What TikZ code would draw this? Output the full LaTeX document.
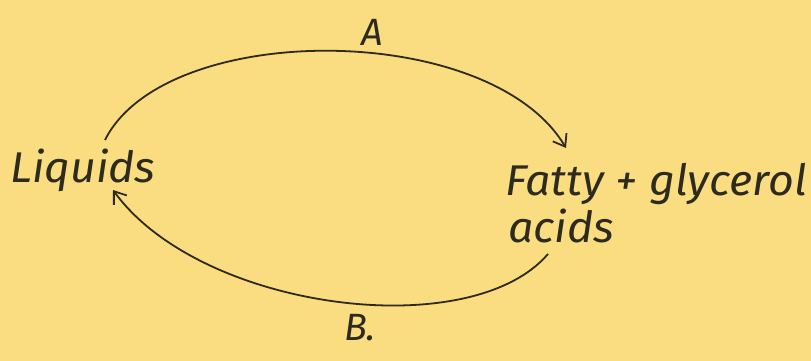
\documentclass[tikz,border=0pt]{standalone}
\usepackage{fontspec}
\setmainfont{Fira Sans}
\usetikzlibrary{arrows.meta,calc}
\definecolor{paper}{RGB}{250,221,128}
\definecolor{ink}{RGB}{45,42,30}
\begin{document}
\begin{tikzpicture}[x=1pt,y=-1pt,
  lbl/.style={text=ink,font=\itshape\fontsize{43}{48}\selectfont,inner sep=0pt,xscale=1.04},
  small/.style={text=ink,font=\itshape\fontsize{38}{42}\selectfont,inner sep=0pt},
  conn/.style={draw=ink,line width=1.8pt,-{Straight Barb[length=11pt,width=16pt,line width=1.8pt]}}]
\fill[paper] (0,0) rectangle (811,361);
\useasboundingbox (0,0) rectangle (811,361);
\node[lbl,anchor=base west] (liq) at (10,182) {Liquids};
\node[lbl,anchor=base west] (fat) at (505,195) {Fatty + glycerol};
\node[lbl,anchor=base west] (acid) at (508,242) {acids};
\node[small] (A) at (372,32) {A};
\node[small] (B) at (360,328) {B.};
\coordinate (s1) at (105,140);
\coordinate (e1) at (566,148);
\coordinate (s2) at (548,254);
\coordinate (e2) at (113,190);
\draw[conn] (s1) .. controls (165,20) and (490,20) .. (e1);
\draw[conn] (s2) .. controls (470,345) and (200,310) .. (e2);
\end{tikzpicture}
\end{document}
